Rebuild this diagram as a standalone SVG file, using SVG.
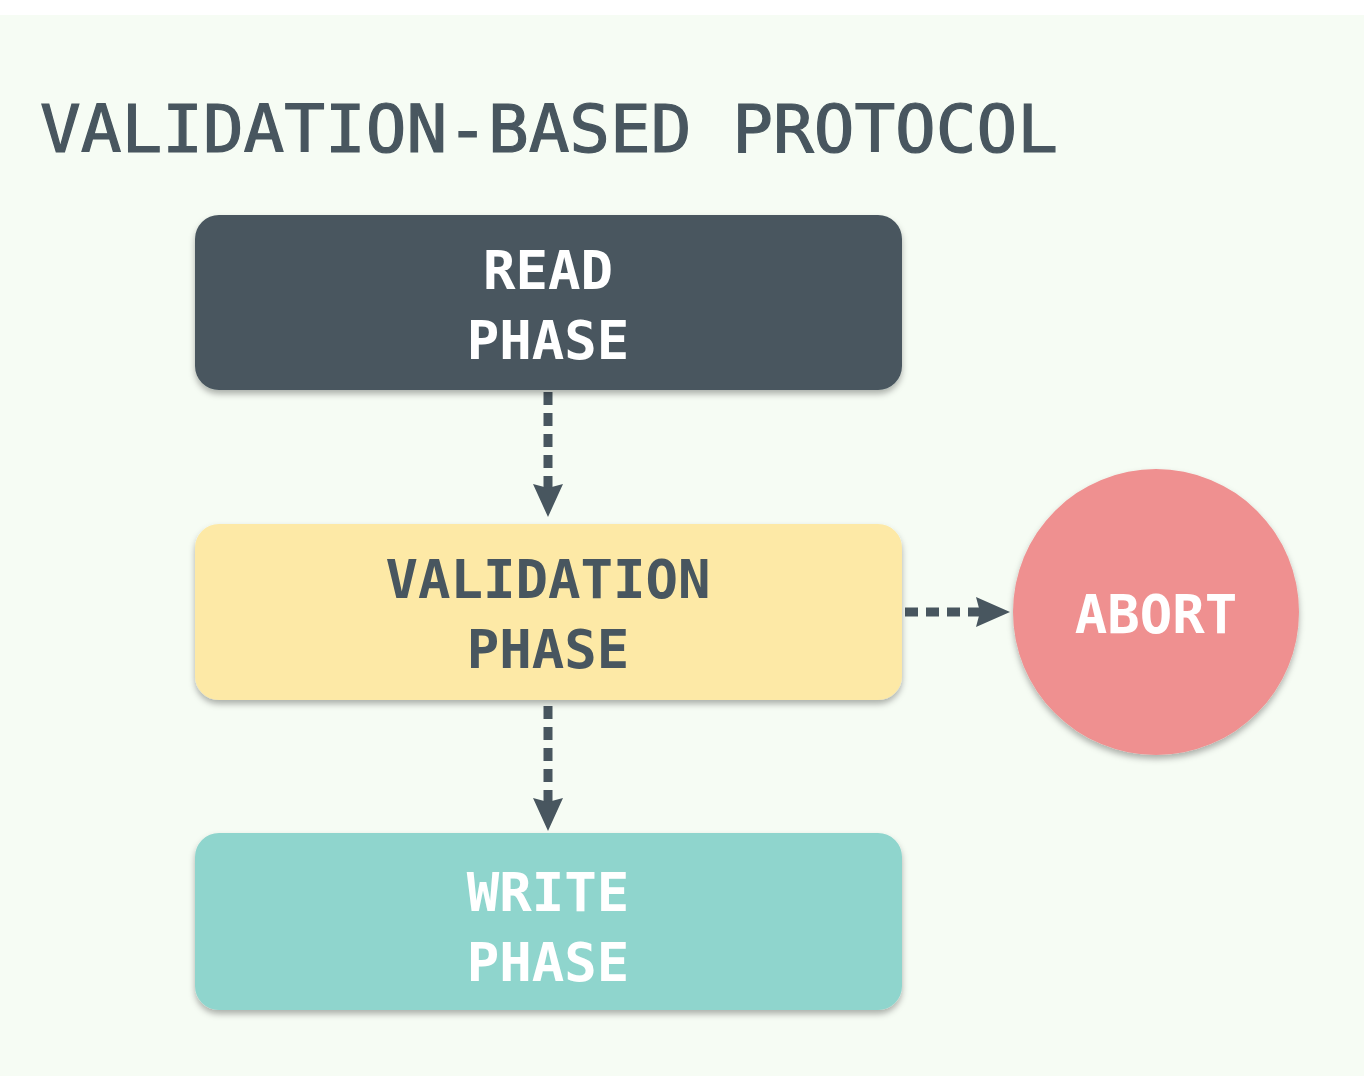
<svg xmlns="http://www.w3.org/2000/svg" width="1364" height="1076" viewBox="0 0 1364 1076">
<style>
.t{font-family:"DejaVu Sans Mono","Liberation Mono",monospace;font-weight:bold;font-size:54px;text-anchor:middle}
.title{font-family:"DejaVu Sans Mono","Liberation Mono",monospace;font-weight:normal;font-size:65px;fill:#48565f;stroke:#48565f;stroke-width:1.2}
.w{fill:#ffffff}
.d{fill:#48565f}
.conn{stroke:#48565f;stroke-width:9;stroke-dasharray:13 8;fill:none}
.head{fill:#48565f}
</style>
<defs>
<filter id="sh" x="-10%" y="-10%" width="120%" height="130%">
<feDropShadow dx="0" dy="4" stdDeviation="3" flood-color="#000" flood-opacity="0.3"/>
</filter>
</defs>
<rect width="1364" height="1076" fill="#ffffff"/>
<rect x="0" y="15" width="1364" height="1061" fill="#f6fcf4"/>
<text class="title" x="40" y="152" textLength="1018" lengthAdjust="spacingAndGlyphs">VALIDATION-BASED PROTOCOL</text>
<g id="connectors">
<path class="conn" d="M548,392 V488"/>
<path class="head" d="M533,484 L548,488 L563,484 L548,517 Z"/>
<path class="conn" d="M548,706 V802"/>
<path class="head" d="M533,798 L548,802 L563,798 L548,831 Z"/>
<path class="conn" d="M905,612 H980"/>
<path class="head" d="M976,597 L1010,612 L976,627 L980,612 Z"/>
</g>
<g id="read">
<rect x="195" y="215" width="707" height="175" rx="24" fill="#48565f" filter="url(#sh)"/>
<text class="t w" x="548" y="289">READ</text>
<text class="t w" x="548" y="359">PHASE</text>
</g>
<g id="validation">
<rect x="195" y="524" width="707" height="176" rx="24" fill="#fde9a6" filter="url(#sh)"/>
<text class="t d" x="548" y="598">VALIDATION</text>
<text class="t d" x="548" y="668">PHASE</text>
</g>
<g id="write">
<rect x="195" y="833" width="707" height="177" rx="24" fill="#8fd5cd" filter="url(#sh)"/>
<text class="t w" x="548" y="911">WRITE</text>
<text class="t w" x="548" y="981">PHASE</text>
</g>
<g id="abort">
<circle cx="1156" cy="612" r="143" fill="#ef9090" filter="url(#sh)"/>
<text class="t w" x="1156" y="633">ABORT</text>
</g>
</svg>
